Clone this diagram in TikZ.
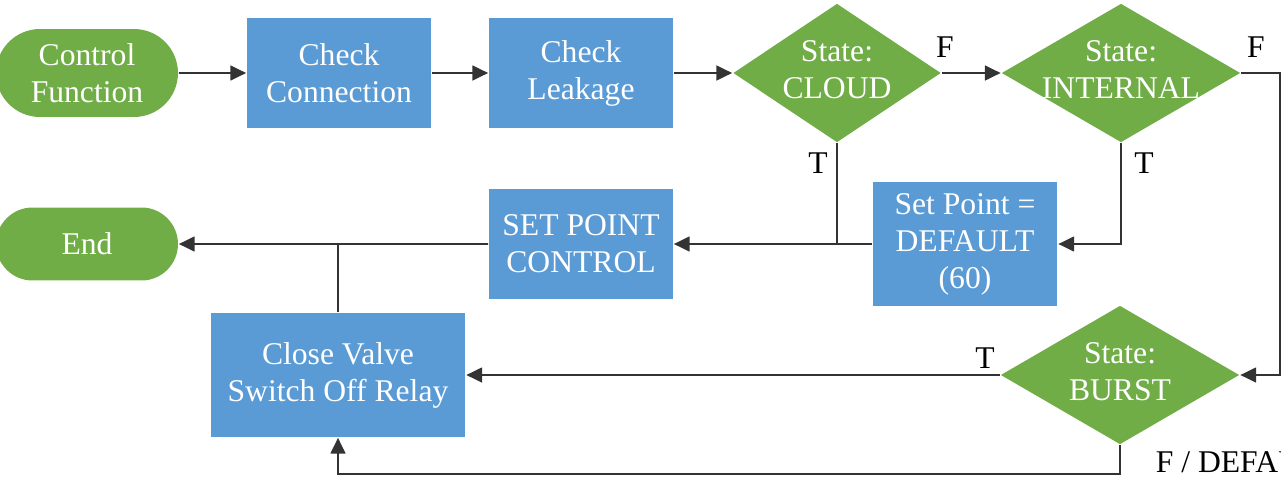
\documentclass[tikz,border=0pt]{standalone}
\usepackage{fontspec}
\setmainfont{Liberation Serif}
\usepackage{tikz}
\usetikzlibrary{arrows.meta,shapes.geometric,shapes.misc,positioning}
\definecolor{blockblue}{HTML}{5B9BD5}
\definecolor{blockgreen}{HTML}{70AD47}
\newcommand{\slimtext}[1]{\makebox[0pt]{\begin{tabular}{@{}c@{}}#1\end{tabular}}}

\begin{document}
\begin{tikzpicture}[x=0.02cm,y=-0.02cm,
  font=\fontsize{18}{21}\selectfont,
  line width=1pt, draw=black!80, >={Triangle[length=9pt,width=8.5pt]},
  procbox/.style={rectangle, fill=blockblue, text=white, align=center, inner sep=0pt},
  termbox/.style={rounded rectangle, fill=blockgreen, text=white, align=center, inner sep=0pt},
  decbox/.style={diamond, fill=blockgreen, text=white, inner sep=0pt},
  lbl/.style={text=black, inner sep=0pt}]

\clip (0,0) rectangle (1281,490);

% top row
\node [termbox, minimum width=3.64cm, minimum height=1.76cm] (start) at (87,73) {Control\\Function};
\node [procbox, minimum width=3.68cm, minimum height=2.2cm] (conn) at (339,73) {Check\\Connection};
\node [procbox, minimum width=3.68cm, minimum height=2.2cm] (leak) at (581,73) {Check\\Leakage};
\node [decbox, minimum width=4.16cm, minimum height=2.78cm] (cloud) at (837,73) {\slimtext{State:\\CLOUD}};
\node [decbox, minimum width=4.78cm, minimum height=2.78cm] (internal) at (1121,73) {\slimtext{State:\\INTERNAL}};

% middle row
\node [termbox, minimum width=3.64cm, minimum height=1.46cm] (end) at (87,244) {End};
\node [procbox, minimum width=3.68cm, minimum height=2.2cm] (setpoint) at (581,244) {SET POINT\\CONTROL};
\node [procbox, minimum width=3.7cm, minimum height=2.5cm] (default) at (965,244) {Set Point =\\DEFAULT\\(60)};

% bottom row
\node [procbox, minimum width=5.1cm, minimum height=2.48cm] (valve) at (338,375) {Close Valve\\Switch Off Relay};
\node [decbox, minimum width=4.78cm, minimum height=2.78cm] (burst) at (1120,375) {\slimtext{State:\\BURST}};

\draw [->] (start) -- (conn);
\draw [->] (conn) -- (leak);
\draw [->] (leak) -- (cloud);
\draw [->] (cloud) -- (internal);
\node [lbl] (fcloud) at (945,47) {F};
\node [lbl] (finternal) at (1256,47) {F};

\draw [->] (cloud.south) |- (setpoint);
\draw (default) -- (cloud.south |- default.west);
\node [lbl] (tcloud) at (818,163) {T};
\draw [->] (internal.south) |- (default);
\node [lbl] (tinternal) at (1144,163) {T};
\draw [->] (internal.east) -- ++(39,0) |- (burst.east);

\draw [->] (setpoint) -- (end);
\draw (valve.north) -- (valve.north |- end.east);

\draw [->] (burst) -- (valve);
\node [lbl] (tburst) at (985,358) {T};
\draw [->] (burst.south) -- ++(0,29) -| (valve.south);
\node [lbl, anchor=west] (fburst) at (1155,462) {F / DEFAULT};
\end{tikzpicture}
\end{document}
